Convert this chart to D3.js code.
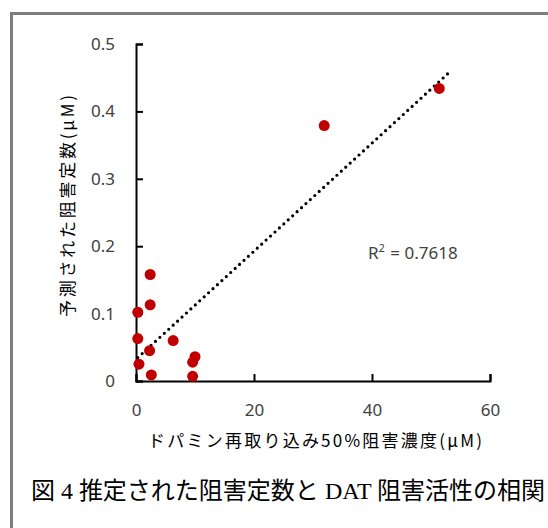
<!DOCTYPE html>
<html>
<head>
<meta charset="utf-8">
<script src="https://cdn.jsdelivr.net/npm/d3@7"></script>
<style>
  body { margin: 0; background: #fff; }
</style>
</head>
<body>
<script>
// Data
const ic50 = [2.4, 2.4, 0.3, 0.3, 2.3, 0.5, 2.6, 6.3, 10.0, 9.6, 9.6, 31.9, 51.4];
const predicted = [0.158, 0.113, 0.102, 0.063, 0.045, 0.025, 0.009, 0.060, 0.036, 0.028, 0.007, 0.379, 0.434];
const xTicks = [0, 20, 40, 60];
const yTicks = [0, 0.1, 0.2, 0.3, 0.4, 0.5];
const trendRange = [0.3, 53.3];
const r2Label = "0.7618";

const xTitle = "ドパミン再取り込み50%阻害濃度(μM)";
const yTitle = "予測された阻害定数(μM)";

const W = 548, H = 528;

const svg = d3.select("body").append("svg")
    .attr("width", W)
    .attr("height", H)
    .style("display", "block");

svg.append("rect")
    .attr("width", W).attr("height", H)
    .attr("fill", "#fff");

// grey frame (cut off on right / bottom)
svg.append("rect")
    .attr("x", 11.5).attr("y", 13.5)
    .attr("width", 700).attr("height", 700)
    .attr("fill", "none")
    .attr("stroke", "#7f7f7f")
    .attr("stroke-width", 3);

const xScale = d3.scaleLinear().domain([0, 60]).range([136, 490]);
const yScale = d3.scaleLinear().domain([0, 0.5]).range([381, 44]);

const tickFont = "'Noto Sans', 'DejaVu Sans', sans-serif";

// y axis
const yAxis = svg.append("g")
    .attr("transform", "translate(" + xScale(0) + ",0)")
    .call(d3.axisLeft(yScale)
        .tickValues(yTicks)
        .tickSize(-7)
        .tickPadding(21)
        .tickFormat(d => String(+d.toFixed(1))));

// x axis
const xAxis = svg.append("g")
    .attr("transform", "translate(0," + yScale(0) + ")")
    .call(d3.axisBottom(xScale)
        .tickValues(xTicks)
        .tickSize(-7)
        .tickPadding(23)
        .tickFormat(d => d));

[xAxis, yAxis].forEach(g => {
    g.selectAll("path, line").attr("stroke", "#000").attr("stroke-width", 2);
    g.selectAll("text")
        .attr("fill", "#404040")
        .style("font-family", tickFont)
        .style("font-size", "17px");
});

// linear trendline (least squares on the points)
const mx = d3.mean(ic50), my = d3.mean(predicted);
const sxy = d3.sum(ic50, (x, i) => (x - mx) * (predicted[i] - my));
const sxx = d3.sum(ic50, x => (x - mx) * (x - mx));
const slope = sxy / sxx;
const intercept = my - slope * mx;

svg.append("line")
    .attr("x1", xScale(trendRange[0]))
    .attr("y1", yScale(intercept + slope * trendRange[0]))
    .attr("x2", xScale(trendRange[1]))
    .attr("y2", yScale(intercept + slope * trendRange[1]))
    .attr("stroke", "#000")
    .attr("stroke-width", 3.2)
    .attr("stroke-linecap", "round")
    .attr("stroke-dasharray", "0 6");

// points
svg.selectAll("circle.pt")
    .data(ic50)
    .enter().append("circle")
    .attr("class", "pt")
    .attr("cx", d => xScale(d))
    .attr("cy", (d, i) => yScale(predicted[i]))
    .attr("r", 5.5)
    .attr("fill", "#c00000");

// R squared label
const r2 = svg.append("text")
    .attr("x", 368)
    .attr("y", 259)
    .attr("fill", "#404040")
    .style("font-family", tickFont)
    .style("font-size", "17px");
r2.append("tspan").text("R");
r2.append("tspan").attr("dy", -7).style("font-size", "11px").text("2");
r2.append("tspan").attr("dy", 7).attr("dx", 1).text(" =  " + r2Label);

// axis titles
svg.append("text")
    .attr("x", 315)
    .attr("y", 447)
    .attr("text-anchor", "middle")
    .attr("fill", "#000")
    .attr("textLength", 334)
    .attr("lengthAdjust", "spacing")
    .style("font-family", "'Noto Sans CJK JP', sans-serif")
    .style("font-size", "17px")
    .text(xTitle);

svg.append("text")
    .attr("transform", "translate(74,206) rotate(-90)")
    .attr("text-anchor", "middle")
    .attr("fill", "#000")
    .attr("textLength", 222)
    .attr("lengthAdjust", "spacing")
    .style("font-family", "'Noto Sans CJK JP', sans-serif")
    .style("font-size", "17px")
    .text(yTitle);

// figure caption
const cap = svg.append("text")
    .attr("x", 288)
    .attr("y", 499)
    .attr("text-anchor", "middle")
    .attr("fill", "#000")
    .style("font-family", "'Noto Sans CJK JP', sans-serif")
    .style("font-size", "24px");
cap.append("tspan").text("図");
cap.append("tspan").style("font-family", "'Liberation Serif', serif").text(" 4 ");
cap.append("tspan").text("推定された阻害定数と");
cap.append("tspan").style("font-family", "'Liberation Serif', serif").text(" DAT ");
cap.append("tspan").text("阻害活性の相関");
</script>
</body>
</html>
